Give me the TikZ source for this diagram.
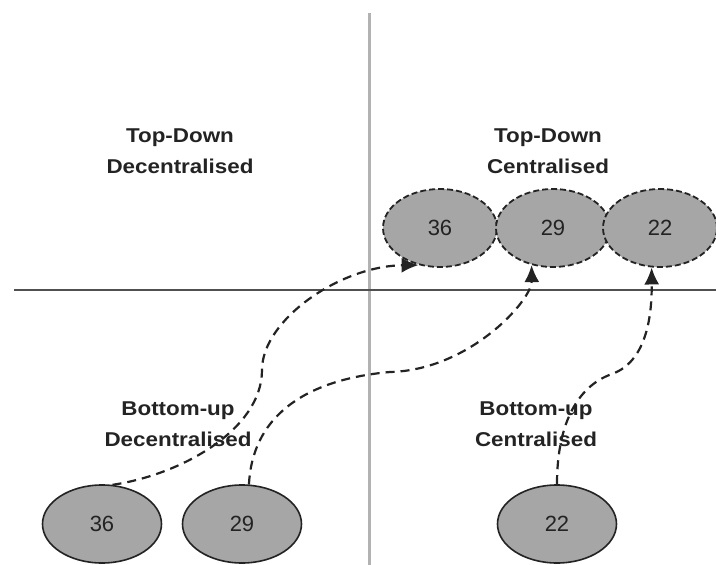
\documentclass[tikz,border=0pt]{standalone}
\usepackage{fontspec}
\setmainfont{Liberation Sans}
\newfontfamily\quadfont[FakeStretch=1.12]{Liberation Sans}
\usetikzlibrary{shapes.geometric,arrows.meta}
\definecolor{cellgray}{RGB}{166,166,166}
\definecolor{edgegray}{RGB}{35,35,35}
\definecolor{axisgray}{RGB}{178,178,178}
\definecolor{rulegray}{RGB}{80,80,80}

\begin{document}
\begin{tikzpicture}[x=1pt,y=-1pt,
  quadlabel/.style={align=center,text=edgegray,font=\quadfont\bfseries\fontsize{20}{31}\selectfont},
  topcell/.style={ellipse,draw=edgegray,fill=cellgray,dash pattern=on 6pt off 3pt,line width=1.8pt,
    minimum width=114pt,minimum height=78pt,inner sep=0pt,text=edgegray,font=\fontsize{22}{22}\selectfont},
  basecell/.style={ellipse,draw=edgegray,fill=cellgray,line width=1.6pt,
    minimum width=119pt,minimum height=78pt,inner sep=0pt,text=edgegray,font=\fontsize{22}{22}\selectfont},
  flow/.style={draw=edgegray,line width=2.2pt,dash pattern=on 9pt off 6pt,-{Latex[length=17pt,width=15pt]}}]
\useasboundingbox (0,0) rectangle (716,565);

\draw[line width=3pt,axisgray] (369,13) -- (369,565);
\draw[line width=1.6pt,rulegray] (14,290) -- (716,290);

\node (tdd) at (180,151)[quadlabel]{Top-Down\\Decentralised};
\node (tdc) at (548,151)[quadlabel]{Top-Down\\Centralised};
\node (bud) at (178,424)[quadlabel]{Bottom-up\\Decentralised};
\node (buc) at (536,424)[quadlabel]{Bottom-up\\Centralised};

\node (t36) at (440,228)[topcell]{36};
\node (t29) at (553,228)[topcell]{29};
\node (t22) at (660,228)[topcell]{22};

\node (b36) at (102,524)[basecell]{36};
\node (b29) at (242,524)[basecell]{29};
\node (b22) at (557,524)[basecell]{22};

\coordinate (k36) at (262,370);
\coordinate (k29) at (390,372);
\coordinate (k22) at (612,374);

\draw[flow] (b36.75) .. controls (180,475) and (262,430) .. (k36) .. controls (262,320) and (340,266) .. (t36.240);
\draw[flow] (b29.80) .. controls (252,420) and (300,380) .. (k29) .. controls (470,370) and (532,300) .. (t29.240);
\draw[flow] (b22.north) .. controls (557,420) and (580,385) .. (k22) .. controls (645,362) and (652,320) .. (t22.258);
\end{tikzpicture}
\end{document}
